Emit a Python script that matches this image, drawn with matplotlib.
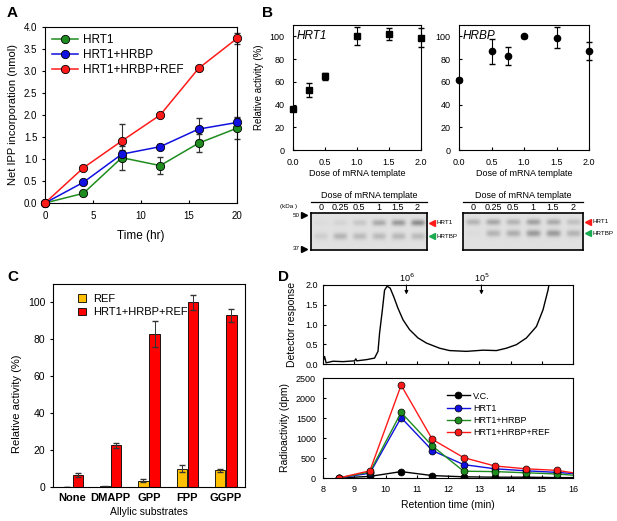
import numpy as np
import matplotlib.pyplot as plt
from matplotlib.ticker import FormatStrFormatter

plt.rcParams['font.family'] = ['Liberation Sans', 'DejaVu Sans']
plt.rcParams['font.size'] = 7
plt.rcParams['axes.linewidth'] = 0.8
plt.rcParams['xtick.direction'] = 'in'
plt.rcParams['ytick.direction'] = 'in'
plt.rcParams['xtick.major.size'] = 2.5
plt.rcParams['ytick.major.size'] = 2.5

# -----------------------
# Panel A data
# -----------------------
time_hr = [0, 4, 8, 12, 16, 20]
a_hrt1 = [0, 0.22, 1.03, 0.85, 1.36, 1.70]
a_hrt1_err = [0, 0.03, 0.27, 0.20, 0.21, 0.24]
a_hrbp = [0, 0.47, 1.11, 1.28, 1.68, 1.83]
a_hrbp_err = [0, 0.04, 0.10, 0.05, 0.25, 0.12]
a_ref = [0, 0.80, 1.41, 2.00, 3.06, 3.74]
a_ref_err = [0, 0.03, 0.38, 0.04, 0.03, 0.13]

# -----------------------
# Panel B data
# -----------------------
b_hrt1_dose = [0, 0.25, 0.5, 1.0, 1.5, 2.0]
b_hrt1_act = [36, 53, 65, 100, 102, 99]
b_hrt1_err = [2, 6, 3, 8, 5, 8]
b_hrbp_dose = [0, 0.5, 0.75, 1.0, 1.5, 2.0]
b_hrbp_act = [62, 87, 83, 100, 99, 87]
b_hrbp_err = [1, 11, 8, 1, 9, 8]

lane_labels = ['0', '0.25', '0.5', '1', '1.5', '2']
gel1_hrt1 = [0.04, 0.10, 0.20, 0.42, 0.55, 0.65]
gel1_hrtbp = [0.15, 0.35, 0.30, 0.30, 0.32, 0.30]
gel2_hrt1 = [0.35, 0.45, 0.35, 0.50, 0.42, 0.25]
gel2_hrtbp = [0.04, 0.35, 0.40, 0.55, 0.55, 0.35]

# -----------------------
# Panel C data
# -----------------------
substrates = ['None', 'DMAPP', 'GPP', 'FPP', 'GGPP']
c_ref = [0, 0.5, 3.5, 10, 9]
c_ref_err = [0, 0.3, 0.8, 2.0, 1.0]
c_all = [6.5, 22.5, 83, 100, 93]
c_all_err = [1.2, 1.5, 7, 4, 3.5]

# -----------------------
# Panel D data
# -----------------------
trace_t = [8.0, 8.05, 8.1, 8.32, 8.64, 9.01, 9.05, 9.08, 9.39, 9.65, 9.76, 9.81, 9.9,
           9.97, 10.05, 10.15, 10.26, 10.4, 10.56, 10.77, 11.04, 11.31, 11.73, 12.05,
           12.59, 13.12, 13.55, 13.87, 14.19, 14.51, 14.83, 15.04, 15.2, 15.3]
trace_v = [0.07, 0.19, 0.03, 0.07, 0.06, 0.08, 0.13, 0.08, 0.11, 0.15, 0.32, 0.78, 1.37,
           1.87, 1.97, 1.92, 1.71, 1.41, 1.12, 0.87, 0.66, 0.53, 0.40, 0.34,
           0.32, 0.35, 0.34, 0.40, 0.49, 0.66, 0.95, 1.37, 1.87, 2.3]
mw_labels = ['10$^6$', '10$^5$']
mw_pos = [10.67, 13.07]

ret_time = [8.5, 9.5, 10.5, 11.5, 12.5, 13.5, 14.5, 15.5, 16.0]
d_vc = [0, 40, 160, 60, 30, 20, 20, 10, 10]
d_hrt1 = [0, 120, 1510, 685, 335, 230, 180, 140, 110]
d_hrbp = [0, 150, 1640, 800, 170, 160, 130, 100, 70]
d_ref = [0, 180, 2320, 965, 510, 300, 230, 190, 130]

GREEN = '#1e8c1e'
BLUE = '#1010e0'
RED = '#ff1a1a'
GOLD = '#ffc000'

W, H = 617, 521
fig = plt.figure(figsize=(6.17, 5.21), dpi=100)


def box(l, t, r, b):
    return [l / W, 1 - b / H, (r - l) / W, (b - t) / H]


# -----------------------
# A
# -----------------------
ax = fig.add_axes(box(45, 27, 237, 203))
for y, e, c, lab in [(a_hrt1, a_hrt1_err, GREEN, 'HRT1'),
                     (a_hrbp, a_hrbp_err, BLUE, 'HRT1+HRBP'),
                     (a_ref, a_ref_err, RED, 'HRT1+HRBP+REF')]:
    ax.errorbar(time_hr, y, yerr=e, fmt='none', ecolor='#333333', elinewidth=0.8,
                capsize=2, clip_on=False)
    ax.plot(time_hr, y, '-o', color=c, mfc=c, mec='black', mew=0.6, ms=6, lw=1.1,
            label=lab, clip_on=False, zorder=3)
ax.set_xlim(0, 20)
ax.set_ylim(0, 4.0)
ax.set_xticks([0, 5, 10, 15, 20])
ax.set_yticks(np.arange(0, 4.01, 0.5))
ax.yaxis.set_major_formatter(FormatStrFormatter('%.1f'))
ax.tick_params(labelsize=7, pad=6)
ax.tick_params(axis='y', direction='out', pad=3)
ax.set_xlabel('Time (hr)', fontsize=8.5, labelpad=6)
ax.set_ylabel('Net IPP incorporation (nmol)', fontsize=8)
ax.legend(loc='upper left', frameon=False, fontsize=8.5, handlelength=2.2,
          borderaxespad=0.2, labelspacing=0.25, handletextpad=0.4)

# -----------------------
# B
# -----------------------
bl = fig.add_axes(box(293, 25, 421, 150))
bl.errorbar(b_hrt1_dose, b_hrt1_act, yerr=b_hrt1_err, fmt='s', color='black', ms=4,
            capsize=2, elinewidth=0.8, clip_on=False)
br = fig.add_axes(box(459, 25, 589, 150))
br.errorbar(b_hrbp_dose, b_hrbp_act, yerr=b_hrbp_err, fmt='o', color='black', ms=4.5,
            capsize=2, elinewidth=0.8, clip_on=False)
for a, name in [(bl, 'HRT1'), (br, 'HRBP')]:
    a.set_xlim(0, 2.0)
    a.set_ylim(0, 110)
    a.set_xticks([0, 0.5, 1.0, 1.5, 2.0])
    a.xaxis.set_major_formatter(FormatStrFormatter('%.1f'))
    a.set_yticks([0, 20, 40, 60, 80, 100])
    a.tick_params(labelsize=6.5, pad=6)
    a.set_xlabel('Dose of mRNA template', fontsize=6.5, labelpad=1)
    a.text(0.03, 0.96, name, transform=a.transAxes, fontsize=8.5, style='italic',
           va='top')
bl.set_ylabel('Relative activity (%)', fontsize=7)

# gels
yy = np.linspace(0, 1, 60)[:, None]
xx = np.linspace(-0.5, 5.5, 240)[None, :]
for (l, r), top_band, low_band, ytop, ylow in [((311, 427), gel1_hrt1, gel1_hrtbp, 0.26, 0.63),
                                               ((463, 583), gel2_hrt1, gel2_hrtbp, 0.24, 0.55)]:
    g = fig.add_axes(box(l, 213, r, 250))
    img = np.full((60, 240), 0.88)
    for i in range(6):
        lane = np.exp(-((xx - i) / 0.36) ** 4)
        img = img - top_band[i] * lane * np.exp(-((yy - ytop) / 0.085) ** 2) * 0.5
        img = img - low_band[i] * lane * np.exp(-((yy - ylow) / 0.095) ** 2) * 0.5
    g.imshow(img, cmap='gray', vmin=0, vmax=1, aspect='auto',
             extent=(-0.5, 5.5, 1, 0))
    g.set_xticks([])
    g.set_yticks([])
    for s in g.spines.values():
        s.set_linewidth(1.2)
    for i, lab in enumerate(lane_labels):
        g.text(i, -0.03, lab, ha='center', va='bottom', fontsize=6.5)
    g.plot([0.0, 1.0], [1.3, 1.3], color='black', lw=0.9, transform=g.transAxes,
           clip_on=False)
    g.text(0.5, 1.35, 'Dose of mRNA template', transform=g.transAxes, ha='center',
           va='bottom', fontsize=6.5)
    g.plot([1.04], [1 - ytop], marker='<', color=RED, ms=5, transform=g.transAxes,
           clip_on=False)
    g.text(1.08, 1 - ytop, 'HRT1', transform=g.transAxes, fontsize=4.5, va='center')
    g.plot([1.04], [1 - ylow], marker='<', color='#1aaa50', ms=5, transform=g.transAxes,
           clip_on=False)
    g.text(1.08, 1 - ylow, 'HRTBP', transform=g.transAxes, fontsize=4.5, va='center')
    if l == 311:
        g.plot([-0.06], [0.94], marker='>', color='black', ms=5,
               transform=g.transAxes, clip_on=False)
        g.plot([-0.06], [0.03], marker='>', color='black', ms=5,
               transform=g.transAxes, clip_on=False)
        g.text(-0.10, 0.94, '50', transform=g.transAxes, fontsize=4.5, ha='right',
               va='center')
        g.text(-0.10, 0.03, '37', transform=g.transAxes, fontsize=4.5, ha='right',
               va='center')
        g.text(-0.27, 1.17, '(kDa )', transform=g.transAxes, fontsize=4.5,
               ha='left', va='center')

# -----------------------
# C
# -----------------------
axc = fig.add_axes(box(53, 284, 245, 487))
xc = np.arange(len(substrates))
bw = 0.27
axc.bar(xc - bw / 2 - 0.01, c_ref, bw, yerr=c_ref_err, color=GOLD, edgecolor='black',
        linewidth=0.6, capsize=2, error_kw=dict(elinewidth=0.7, ecolor='#333333'),
        label='REF')
axc.bar(xc + bw / 2 + 0.01, c_all, bw, yerr=c_all_err, color='#ff0000',
        edgecolor='black', linewidth=0.6, capsize=2,
        error_kw=dict(elinewidth=0.7, ecolor='#333333'), label='HRT1+HRBP+REF')
axc.set_xlim(-0.5, 4.5)
axc.set_ylim(0, 110)
axc.set_yticks([0, 20, 40, 60, 80, 100])
axc.set_xticks(xc)
axc.set_xticklabels(substrates, fontweight='bold', fontsize=8)
axc.tick_params(axis='x', length=0, pad=4)
axc.tick_params(axis='y', labelsize=7.5, pad=3, direction='out')
axc.set_xlabel('Allylic substrates', fontsize=7.5, labelpad=3)
axc.set_ylabel('Relative activity (%)', fontsize=8)
axc.yaxis.set_label_coords(-0.16, 0.41)
axc.legend(loc='upper left', bbox_to_anchor=(0.08, 1.0), frameon=False, fontsize=8,
           handlelength=0.7, handleheight=0.7, handletextpad=0.6, labelspacing=0.3)

# -----------------------
# D
# -----------------------
dt = fig.add_axes(box(323, 285, 573, 364))
dt.plot(trace_t, trace_v, color='black', lw=1.0)
dt.set_xlim(8, 16)
dt.set_ylim(0, 2.0)
dt.set_yticks([0, 0.5, 1.0, 1.5, 2.0])
dt.yaxis.set_major_formatter(FormatStrFormatter('%.1f'))
dt.set_xticks(range(8, 17))
dt.tick_params(labelbottom=False, labelsize=6.5)
dt.set_ylabel('Detector response', fontsize=7.5, labelpad=6)
for lab, p in zip(mw_labels, mw_pos):
    dt.annotate('', xy=(p, 1.76), xytext=(p, 2.0),
                arrowprops=dict(arrowstyle='-|>', color='black', lw=0.8,
                                mutation_scale=5, shrinkA=0, shrinkB=0))
    dt.text(p, 2.02, lab, ha='center', va='bottom', fontsize=6.5)

db = fig.add_axes(box(323, 378, 573, 478))
for y, c, lab in [(d_vc, 'black', 'V.C.'), (d_hrt1, BLUE, 'HRT1'),
                  (d_hrbp, GREEN, 'HRT1+HRBP'), (d_ref, RED, 'HRT1+HRBP+REF')]:
    db.plot(ret_time, y, '-o', color=c, mfc=c, mec='black', mew=0.5, ms=5, lw=1.0,
            markevery=list(range(8)), label=lab)
db.set_xlim(8, 16)
db.set_ylim(0, 2500)
db.set_xticks(range(8, 17))
db.set_yticks([0, 500, 1000, 1500, 2000, 2500])
db.tick_params(labelsize=6.5, pad=5)
db.set_xlabel('Retention time (min)', fontsize=7.5)
db.set_ylabel('Radioactivity (dpm)', fontsize=7.5)
db.legend(loc='upper left', bbox_to_anchor=(0.48, 0.9), frameon=False, fontsize=6.5,
          handlelength=2.6, labelspacing=0.35, handletextpad=0.3, borderaxespad=0)

# panel letters
for ch, x, y in [('A', 7, 13), ('B', 262, 13), ('C', 7, 277), ('D', 278, 277)]:
    fig.text(x / W, 1 - y / H, ch, fontsize=11, fontweight='bold', va='center')

fig.savefig('out.png', dpi=100)
plt.close(fig)
